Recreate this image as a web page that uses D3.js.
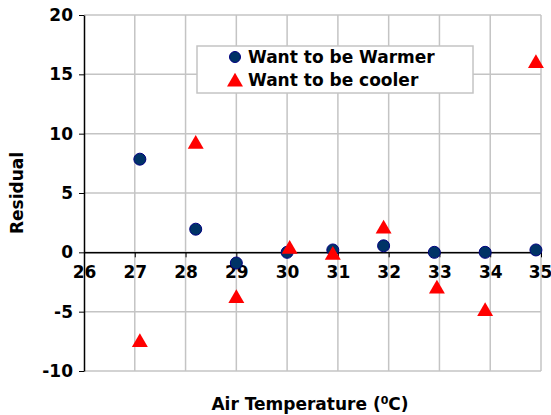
<!DOCTYPE html>
<html>
<head>
<meta charset="utf-8">
<script src="https://cdn.jsdelivr.net/npm/d3@7"></script>
<style>
body { margin: 0; background: #fff; }
svg text { font-family: "DejaVu Sans", Verdana, sans-serif; font-weight: bold; }
</style>
</head>
<body>
<svg width="551" height="415"></svg>
<script>
var xTicks = [26, 27, 28, 29, 30, 31, 32, 33, 34, 35];
var yTicks = [-10, -5, 0, 5, 10, 15, 20];

var warmerTemp = [27.1, 28.2, 29.0, 30.0, 30.9, 31.9, 32.9, 33.9, 34.9];
var warmerResid = [7.85, 1.95, -0.9, 0.0, 0.2, 0.55, 0.0, 0.0, 0.2];
var coolerTemp = [27.1, 28.2, 29.0, 30.05, 30.9, 31.9, 32.95, 33.9, 34.9];
var coolerResid = [-7.5, 9.2, -3.8, 0.35, -0.15, 2.05, -3.0, -4.9, 16.0];

var svg = d3.select("svg");
var plotL = 84, plotR = 541, plotT = 15, plotB = 371;

var x = d3.scaleLinear().domain([26, 35]).range([plotL, plotR]);
var y = d3.scaleLinear().domain([-10, 20]).range([plotB, plotT]);

var grid = svg.append("g").attr("stroke", "#c4c4c4").attr("stroke-width", 1.5);
grid.selectAll(".vg").data(xTicks.slice(1)).enter().append("line")
	.attr("x1", function(d) { return x(d); }).attr("x2", function(d) { return x(d); })
	.attr("y1", plotT).attr("y2", plotB);
grid.selectAll(".hg").data(yTicks).enter().append("line")
	.attr("x1", plotL).attr("x2", plotR)
	.attr("y1", function(d) { return y(d); }).attr("y2", function(d) { return y(d); });

// y axis
var yAxis = svg.append("g").attr("transform", "translate(" + plotL + ",0)")
	.call(d3.axisLeft(y).tickValues(yTicks).tickFormat(function(d) { return String(d); })
		.tickSize(5).tickPadding(6).tickSizeOuter(0));
yAxis.select(".domain").attr("stroke", "#000").attr("stroke-width", 1.5);
yAxis.selectAll("text").style("font-size", "17px").attr("fill", "#000");

// x axis at y = 0
var xAxis = svg.append("g").attr("transform", "translate(0," + y(0) + ")")
	.call(d3.axisBottom(x).tickValues(xTicks).tickSize(5).tickPadding(9).tickSizeOuter(0));
xAxis.select(".domain").attr("stroke", "#000").attr("stroke-width", 1.5);
xAxis.selectAll("text").style("font-size", "17px").attr("fill", "#000");
// last label sits right at the edge, pull it in a touch
xAxis.selectAll("text").filter(function(d) { return d === 35; }).attr("dx", -1);

// series
var tri = d3.symbol().type(d3.symbolTriangle).size(110);

svg.append("g").selectAll("circle").data(warmerTemp).enter().append("circle")
	.attr("cx", function(d) { return x(d); })
	.attr("cy", function(d, i) { return y(warmerResid[i]); })
	.attr("r", 6)
	.attr("fill", "#003366").attr("stroke", "#000080").attr("stroke-width", 1);

svg.append("g").selectAll("path").data(coolerTemp).enter().append("path")
	.attr("d", tri)
	.attr("transform", function(d, i) { return "translate(" + x(d) + "," + (y(coolerResid[i]) + 1) + ")"; })
	.attr("fill", "#ff0000");

// legend
var lg = svg.append("g");
lg.append("rect").attr("x", 197).attr("y", 46).attr("width", 276).attr("height", 47)
	.attr("fill", "#fff").attr("stroke", "#c4c4c4").attr("stroke-width", 1.5);
lg.append("circle").attr("cx", 235).attr("cy", 57).attr("r", 5.5)
	.attr("fill", "#003366").attr("stroke", "#000080");
lg.append("path").attr("d", tri).attr("transform", "translate(235,82)").attr("fill", "#ff0000");
lg.append("text").attr("x", 248).attr("y", 63).style("font-size", "17px").text("Want to be Warmer");
lg.append("text").attr("x", 248).attr("y", 86).style("font-size", "17px").text("Want to be cooler");

// axis titles
svg.append("text").attr("transform", "translate(23," + ((plotT + plotB) / 2) + ") rotate(-90)")
	.attr("text-anchor", "middle").style("font-size", "17px").text("Residual");

var xt = svg.append("text").attr("x", 310).attr("y", 410).attr("text-anchor", "middle").style("font-size", "17px");
xt.append("tspan").text("Air Temperature (");
xt.append("tspan").attr("dy", -6).style("font-size", "11px").text("0");
xt.append("tspan").attr("dy", 6).text("C)");
</script>
</body>
</html>
